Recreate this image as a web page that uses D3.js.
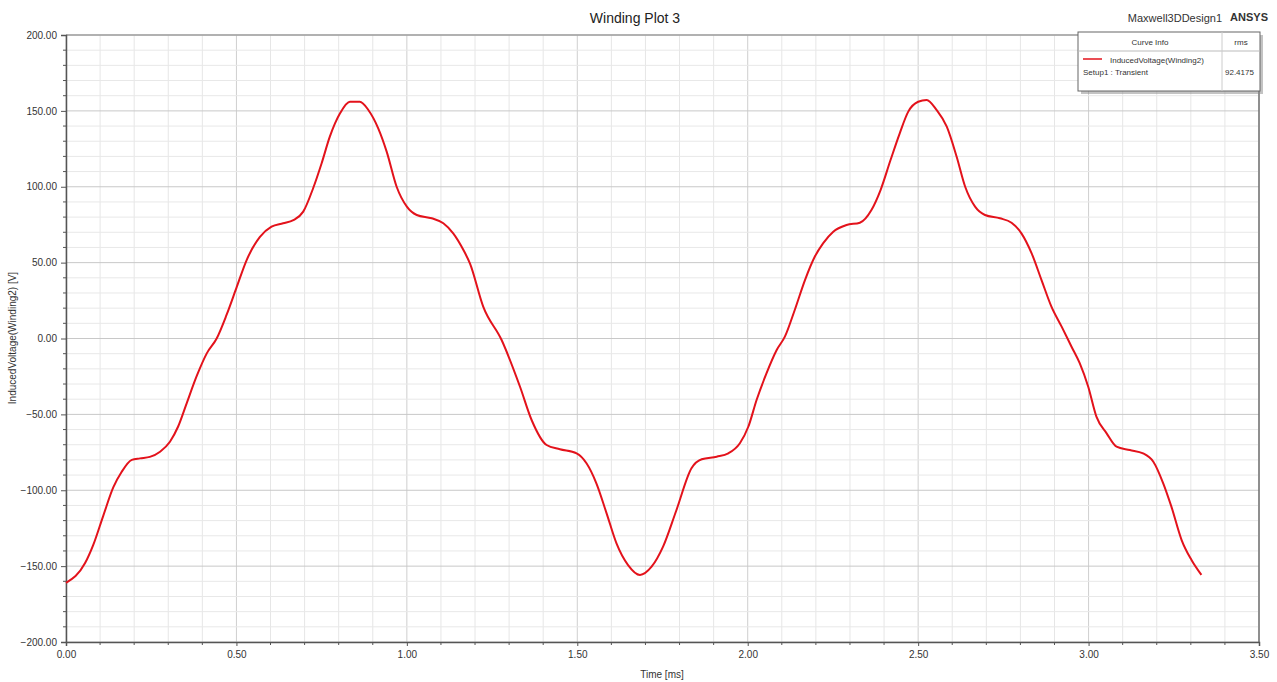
<!DOCTYPE html>
<html><head><meta charset="utf-8">
<script src="https://cdn.jsdelivr.net/npm/d3@7"></script>
<style>
html,body{margin:0;padding:0;background:#fff;}
svg{display:block;font-family:"Liberation Sans",Arial,sans-serif;}
</style></head>
<body><svg id="c" width="1277" height="682"></svg>
<script>
const title = "Winding Plot 3";
const xLabel = "Time [ms]";
const yLabel = "InducedVoltage(Winding2) [V]";
const xTicks = [0, 0.5, 1.0, 1.5, 2.0, 2.5, 3.0, 3.5];
const yTicks = [-200, -150, -100, -50, 0, 50, 100, 150, 200];
const legendCurve = "InducedVoltage(Winding2)";
const legendSetup = "Setup1 : Transient";
const legendRms = "92.4175";

const timeMs = [0.000,0.056,0.080,0.109,0.139,0.163,0.193,0.217,0.246,0.276,0.305,0.329,0.354,0.383,0.413,0.442,0.471,0.501,0.530,0.569,0.603,0.637,0.667,0.696,0.725,0.750,0.774,0.804,0.833,0.862,0.887,0.916,0.941,0.970,1.000,1.029,1.073,1.107,1.136,1.166,1.185,1.224,1.278,1.332,1.366,1.410,1.449,1.498,1.527,1.556,1.586,1.615,1.649,1.684,1.718,1.752,1.791,1.835,1.865,1.909,1.943,1.977,2.002,2.026,2.055,2.085,2.109,2.138,2.168,2.197,2.221,2.251,2.290,2.329,2.363,2.390,2.419,2.446,2.471,2.500,2.525,2.554,2.584,2.613,2.638,2.667,2.696,2.740,2.774,2.803,2.833,2.862,2.891,2.921,2.950,2.974,2.999,3.023,3.053,3.082,3.121,3.160,3.190,3.219,3.243,3.273,3.302,3.331];
const voltage = [-161,-148,-136,-117,-98,-88,-80,-79,-78,-74.6,-68,-58,-42.7,-25,-9.8,0,15.5,34,51.7,67,73.7,75.9,78,83.6,99,115.5,133,148.4,156,156,150.6,138.5,123,100,86.9,81.4,79.2,75.9,69.3,58.3,49.5,21,-1,-31.8,-53.7,-70.2,-73,-75.7,-82.2,-95.4,-115.2,-135,-149.3,-155.8,-150.4,-137,-113,-85.5,-79.6,-77.9,-75.7,-69,-58,-40.5,-23,-7.6,1.2,18.8,38.5,54,62.7,70.4,74.8,76.3,84.7,98,117.6,135.2,149.5,156,157.2,150.6,139.6,119.8,100,86.9,81.4,79.2,76.3,69.3,56.1,38.5,21,7.8,-5.4,-16.3,-31.8,-51.5,-62.5,-71.3,-73.5,-75.7,-81.2,-95.4,-110.8,-132.8,-146,-155.8];

const svg = d3.select("#c");
const L = 66, R = 1259, T = 35, B = 642;
const x = d3.scaleLinear().domain([0, 3.5]).range([L, R]);
const y = d3.scaleLinear().domain([-200, 200]).range([B, T]);

// minor grid
const xMinor = d3.range(0, 3.5001, 0.1);
const yMinor = d3.range(-200, 200.001, 10);
const g = svg.append("g");
g.selectAll(".vx").data(xMinor).enter().append("line")
  .attr("x1", d => x(d)).attr("x2", d => x(d)).attr("y1", T).attr("y2", B)
  .attr("stroke", d => (Math.abs(d*2 - Math.round(d*2)) < 1e-6) ? "#cfcfcf" : "#e6e6e6").attr("stroke-width", 1);
g.selectAll(".hy").data(yMinor).enter().append("line")
  .attr("x1", L).attr("x2", R).attr("y1", d => y(d)).attr("y2", d => y(d))
  .attr("stroke", d => (d % 50 === 0) ? "#c8c8c8" : "#e8e8e8").attr("stroke-width", 1);

// borders
svg.append("line").attr("x1", L).attr("x2", R).attr("y1", T).attr("y2", T).attr("stroke", "#a0a0a0").attr("stroke-width", 1.5);
svg.append("line").attr("x1", R).attr("x2", R).attr("y1", T).attr("y2", B).attr("stroke", "#555").attr("stroke-width", 1.2);

// axes
const yAxis = d3.axisLeft(y).tickValues(yTicks).tickFormat(d3.format(".2f")).tickSize(5).tickPadding(4);
const yAx = svg.append("g").attr("transform", `translate(${L},0)`).call(yAxis);
const xAxis = d3.axisBottom(x).tickValues(xTicks).tickFormat(d3.format(".2f")).tickSize(4).tickPadding(5);
const xAx = svg.append("g").attr("transform", `translate(0,${B})`).call(xAxis);
[yAx, xAx].forEach(a => {
  a.select(".domain").attr("stroke", "#555").attr("stroke-width", 1.5);
  a.selectAll(".tick line").attr("stroke", "#555");
  a.selectAll(".tick text").attr("fill", "#333").style("font-size", "10px").style("font-family", '"Liberation Sans",Arial,sans-serif');
});
// minor ticks
svg.append("g").selectAll("line").data(yMinor.filter(d => d % 50 !== 0)).enter().append("line")
  .attr("x1", L - 3).attr("x2", L).attr("y1", d => y(d)).attr("y2", d => y(d)).attr("stroke", "#555");
svg.append("g").selectAll("line").data(xMinor.filter(d => Math.abs(d*2 - Math.round(d*2)) > 1e-6)).enter().append("line")
  .attr("x1", d => x(d)).attr("x2", d => x(d)).attr("y1", B).attr("y2", B + 3).attr("stroke", "#555");

// curve
const pts = timeMs.map((t, i) => [t, voltage[i]]);
svg.append("path").datum(pts)
  .attr("fill", "none").attr("stroke", "#e3121b").attr("stroke-width", 2).attr("stroke-linejoin", "round")
  .attr("d", d3.line().x(d => x(d[0])).y(d => y(d[1])).curve(d3.curveMonotoneX));

// titles
svg.append("text").attr("x", 635).attr("y", 23).attr("text-anchor", "middle")
  .style("font-size", "14px").attr("fill", "#222").text(title);
svg.append("text").attr("x", 1222).attr("y", 22).attr("text-anchor", "end")
  .style("font-size", "11px").attr("fill", "#333").text("Maxwell3DDesign1");
svg.append("text").attr("x", 1268).attr("y", 21).attr("text-anchor", "end")
  .style("font-size", "11px").style("font-weight", "bold").attr("fill", "#333").text("ANSYS");
svg.append("text").attr("x", 662).attr("y", 678).attr("text-anchor", "middle")
  .style("font-size", "10px").attr("fill", "#333").text(xLabel);
svg.append("text").attr("transform", "translate(16,338) rotate(-90)").attr("text-anchor", "middle")
  .style("font-size", "10px").attr("fill", "#333").text(yLabel);

// legend
const lg = svg.append("g");
lg.append("rect").attr("x", 1081).attr("y", 35).attr("width", 182).attr("height", 59).attr("fill", "#888").attr("opacity", 0.5);
lg.append("rect").attr("x", 1078).attr("y", 32).attr("width", 182).attr("height", 59).attr("fill", "#fff").attr("stroke", "#666").attr("stroke-width", 1);
lg.append("line").attr("x1", 1078).attr("x2", 1260).attr("y1", 51).attr("y2", 51).attr("stroke", "#bbb");
lg.append("line").attr("x1", 1222).attr("x2", 1222).attr("y1", 32).attr("y2", 91).attr("stroke", "#ccc");
lg.append("text").attr("x", 1150).attr("y", 45).attr("text-anchor", "middle").style("font-size", "8px").attr("fill", "#333").text("Curve Info");
lg.append("text").attr("x", 1241).attr("y", 45).attr("text-anchor", "middle").style("font-size", "8px").attr("fill", "#333").text("rms");
lg.append("line").attr("x1", 1083).attr("x2", 1102).attr("y1", 59).attr("y2", 59).attr("stroke", "#e3121b").attr("stroke-width", 1.5);
lg.append("text").attr("x", 1110).attr("y", 63).style("font-size", "8px").attr("fill", "#333").text(legendCurve);
lg.append("text").attr("x", 1083).attr("y", 75).style("font-size", "8px").attr("fill", "#333").text(legendSetup);
lg.append("text").attr("x", 1225).attr("y", 75).style("font-size", "8px").attr("fill", "#333").text(legendRms);
</script></body></html>
